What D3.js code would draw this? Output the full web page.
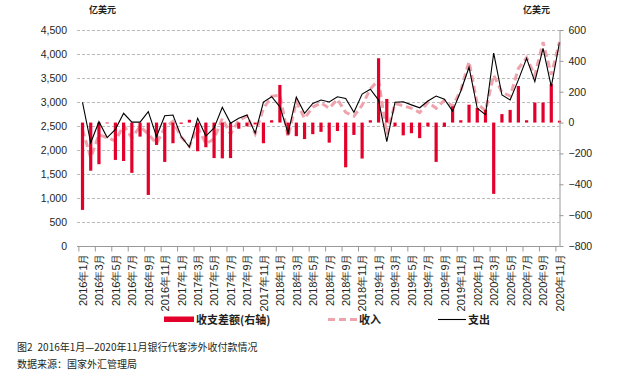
<!DOCTYPE html>
<html>
<head>
<meta charset="utf-8">
<script src="https://cdn.jsdelivr.net/npm/d3@7"></script>
<style>
body { margin: 0; background: #fff; }
svg { font-family: "Noto Sans CJK SC", "Noto Sans", sans-serif; }
</style>
</head>
<body>
<svg id="chart" width="624" height="377"></svg>
<script>
// 月份
const months = [
    '2016年1月','2016年2月','2016年3月','2016年4月','2016年5月','2016年6月','2016年7月','2016年8月','2016年9月','2016年10月','2016年11月','2016年12月',
    '2017年1月','2017年2月','2017年3月','2017年4月','2017年5月','2017年6月','2017年7月','2017年8月','2017年9月','2017年10月','2017年11月','2017年12月',
    '2018年1月','2018年2月','2018年3月','2018年4月','2018年5月','2018年6月','2018年7月','2018年8月','2018年9月','2018年10月','2018年11月','2018年12月',
    '2019年1月','2019年2月','2019年3月','2019年4月','2019年5月','2019年6月','2019年7月','2019年8月','2019年9月','2019年10月','2019年11月','2019年12月',
    '2020年1月','2020年2月','2020年3月','2020年4月','2020年5月','2020年6月','2020年7月','2020年8月','2020年9月','2020年10月','2020年11月'
];

// 收入（左轴，亿美元）
const income = [
    2424, 1838, 2320, 2255, 2188, 2516, 2254, 2489, 2331, 2135, 2460, 2596,
    2272, 2075, 2474, 2130, 2230, 2658, 2330, 2620, 2706, 2338, 2866, 3118,
    3144, 2272, 3012, 2658, 2895, 2980, 2870, 3055, 2785, 2705, 2932, 3273,
    3457, 2328, 2970, 2922, 2871, 2779, 2995, 2870, 3032, 2915, 3242, 3841,
    2965, 2817, 3558, 3201, 3124, 3697, 3922, 3553, 4248, 3569, 4252
];

// 支出（左轴）
const expend = [
    2990, 2150, 2590, 2260, 2430, 2765, 2580, 2580, 2800, 2280, 2715, 2730,
    2280, 2060, 2660, 2290, 2460, 2890, 2560, 2660, 2730, 2350, 3000, 3110,
    2900, 2350, 3100, 2765, 2970, 3040, 3000, 3110, 3075, 2785, 3165, 3265,
    3040, 2175, 2995, 3005, 2940, 2880, 3020, 3125, 3060, 2810, 3230, 3725,
    2870, 2735, 4020, 3146, 3042, 3460, 3910, 3423, 4118, 3319, 4240
];

// 收支差额（右轴）
const balance = [
    -566, -312, -270, -5, -242, -249, -326, -91, -469, -145, -255, -134,
    -8, 18, -186, -160, -230, -232, -230, -40, -24, -12, -134, 15,
    244, -78, -88, -107, -75, -60, -130, -55, -290, -80, -233, 15,
    417, 153, -25, -83, -69, -101, -25, -255, -28, 105, 15, 116,
    95, 82, -462, 55, 82, 237, 15, 130, 130, 250, 12
];

const leftTicks = [0, 500, 1000, 1500, 2000, 2500, 3000, 3500, 4000, 4500];
const rightTicks = [-800, -600, -400, -200, 0, 200, 400, 600];

const svg = d3.select('#chart');
const plot = {left: 77, right: 559.5, top: 30, bottom: 246};
const textColor = '#231f20';

const x = d3.scalePoint().domain(months).range([82.5, 559.5]);
const yL = d3.scaleLinear().domain([0, 4500]).range([plot.bottom, plot.top]);
const yR = d3.scaleLinear().domain([-800, 600]).range([plot.bottom, plot.top]);

// left axis + grid
const gl = svg.append('g')
    .attr('transform', `translate(${plot.left},0)`)
    .call(d3.axisLeft(yL)
        .tickValues(leftTicks)
        .tickFormat(d3.format(','))
        .tickSize(-(plot.right - plot.left))
        .tickPadding(10));
gl.select('.domain').remove();
gl.selectAll('.tick line')
    .attr('stroke', '#aaa')
    .attr('stroke-dasharray', '3,2')
    .attr('stroke-width', 0.8)
    .filter(d => d == 0).remove();
gl.selectAll('.tick text')
    .attr('font-size', 10.5)
    .attr('fill', textColor);

// income (dashed pink)
svg.append('path')
    .datum(income)
    .attr('fill', 'none')
    .attr('stroke', '#efa3ad')
    .attr('stroke-width', 3)
    .attr('stroke-dasharray', '7,4')
    .attr('d', d3.line().x((d, i) => x(months[i])).y(d => yL(d)));

// balance bars
svg.append('g')
    .selectAll('rect')
    .data(balance)
    .join('rect')
    .attr('x', (d, i) => x(months[i]) - 1.6)
    .attr('width', 3.2)
    .attr('y', d => yR(Math.max(d, 0)))
    .attr('height', d => Math.abs(yR(d) - yR(0)))
    .attr('fill', '#e3002b');

// expenditure (black)
svg.append('path')
    .datum(expend)
    .attr('fill', 'none')
    .attr('stroke', '#000')
    .attr('stroke-width', 1.1)
    .attr('d', d3.line().x((d, i) => x(months[i])).y(d => yL(d)));

// bottom axis
const step = x.step();
const gx = svg.append('g')
    .attr('transform', `translate(0,${plot.bottom + 0.5})`)
    .call(d3.axisBottom(x)
        .tickValues(months.filter((m, i) => i % 2 == 0))
        .tickSize(5)
        .tickSizeOuter(0));
gx.select('.domain')
    .attr('d', `M${plot.left},0H${plot.right}`)
    .attr('stroke', '#999');
gx.selectAll('.tick line')
    .attr('stroke', '#999')
    .attr('x1', -step / 2)
    .attr('x2', -step / 2);
gx.selectAll('.tick text')
    .attr('transform', 'rotate(-90)')
    .attr('x', -7)
    .attr('y', 0)
    .attr('dy', '0.35em')
    .attr('text-anchor', 'end')
    .attr('font-size', 11)
    .attr('fill', textColor);

// right axis
const gr = svg.append('g')
    .attr('transform', `translate(${plot.right},0)`)
    .call(d3.axisRight(yR)
        .tickValues(rightTicks)
        .tickSize(4)
        .tickPadding(5)
        .tickSizeOuter(0));
gr.select('.domain').attr('stroke', '#999');
gr.selectAll('.tick line').attr('stroke', '#999');
gr.selectAll('.tick text')
    .attr('font-size', 10.5)
    .attr('fill', textColor);

// units
svg.append('text')
    .attr('x', 89).attr('y', 12.5)
    .attr('font-size', 9).attr('font-weight', 'bold').attr('fill', textColor)
    .text('亿美元');
svg.append('text')
    .attr('x', 523).attr('y', 12.5)
    .attr('font-size', 9).attr('font-weight', 'bold').attr('fill', textColor)
    .text('亿美元');

// legend
const lg = svg.append('g').attr('font-size', 11).attr('font-weight', 'bold').attr('fill', textColor);
lg.append('rect')
    .attr('x', 164).attr('y', 316.5).attr('width', 30).attr('height', 5.5)
    .attr('fill', '#e3002b');
lg.append('text').attr('x', 196).attr('y', 323.5).text('收支差额(右轴)');
lg.append('line')
    .attr('x1', 328).attr('x2', 358).attr('y1', 319.5).attr('y2', 319.5)
    .attr('stroke', '#efa3ad').attr('stroke-width', 3).attr('stroke-dasharray', '7,4');
lg.append('text').attr('x', 359).attr('y', 323.5).text('收入');
lg.append('line')
    .attr('x1', 438).attr('x2', 466).attr('y1', 319.5).attr('y2', 319.5)
    .attr('stroke', '#000').attr('stroke-width', 1.1);
lg.append('text').attr('x', 468).attr('y', 323.5).text('支出');

// caption
const cap = svg.append('text')
    .attr('x', 17).attr('y', 351)
    .attr('font-size', 10).attr('fill', textColor);
cap.append('tspan').text('图2');
cap.append('tspan').attr('dx', 5).text('2016年1月—2020年11月银行代客涉外收付款情况');
svg.append('text')
    .attr('x', 17).attr('y', 368)
    .attr('font-size', 10).attr('fill', textColor)
    .text('数据来源：国家外汇管理局');
</script>
</body>
</html>
